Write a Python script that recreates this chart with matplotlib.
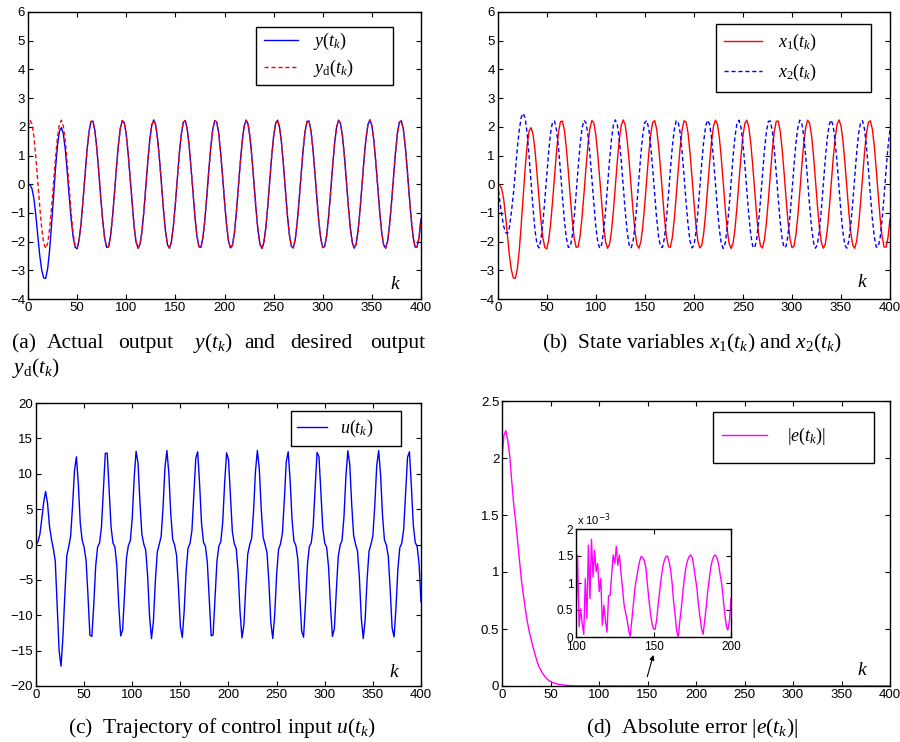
import numpy as np
import matplotlib.pyplot as plt
from matplotlib.patches import Rectangle
from matplotlib.ticker import FuncFormatter

plt.rcParams['font.family'] = 'Liberation Sans'
plt.rcParams['mathtext.fontset'] = 'custom'
plt.rcParams['mathtext.rm'] = 'Liberation Serif'
plt.rcParams['mathtext.it'] = 'Liberation Serif:italic'
plt.rcParams['mathtext.bf'] = 'Liberation Serif:bold'

# ---- data (k = 0, 2, ..., 400) ----
k = np.arange(0, 401, 2)

yd = [2.00, 2.23, 2.11, 1.66, 0.94, 0.08, -0.80, -1.55, -2.06, -2.24,
      -2.06, -1.57, -0.82, 0.05, 0.92, 1.64, 2.10, 2.23, 2.01, 1.47,
      0.70, -0.18, -1.04, -1.73, -2.14, -2.22, -1.95, -1.37, -0.57, 0.31,
      1.15, 1.81, 2.18, 2.20, 1.88, 1.26, 0.45, -0.44, -1.26, -1.88,
      -2.20, -2.18, -1.81, -1.15, -0.32, 0.57, 1.37, 1.95, 2.22, 2.14,
      1.73, 1.04, 0.19, -0.70, -1.47, -2.01, -2.23, -2.10, -1.64, -0.92,
      -0.06, 0.82, 1.56, 2.06, 2.24, 2.06, 1.55, 0.80, -0.07, -0.93,
      -1.65, -2.11, -2.23, -2.00, -1.45, -0.68, 0.21, 1.06, 1.74, 2.15,
      2.22, 1.94, 1.35, 0.55, -0.33, -1.17, -1.82, -2.18, -2.20, -1.87,
      -1.24, -0.42, 0.46, 1.28, 1.89, 2.21, 2.17, 1.80, 1.13, 0.30,
      -0.59, -1.38, -1.96, -2.22, -2.14, -1.72, -1.02, -0.17, 0.72, 1.48,
      2.02, 2.23, 2.10, 1.63, 0.90, 0.03, -0.84, -1.58, -2.07, -2.24,
      -2.05, -1.54, -0.78, 0.10, 0.96, 1.67, 2.12, 2.23, 1.99, 1.44,
      0.66, -0.23, -1.07, -1.75, -2.16, -2.22, -1.93, -1.34, -0.53, 0.35,
      1.19, 1.83, 2.19, 2.20, 1.86, 1.23, 0.40, -0.48, -1.30, -1.90,
      -2.21, -2.17, -1.78, -1.12, -0.28, 0.61, 1.40, 1.97, 2.23, 2.13,
      1.70, 1.00, 0.14, -0.74, -1.50, -2.03, -2.23, -2.09, -1.61, -0.88,
      -0.01, 0.86, 1.59, 2.08, 2.24, 2.04, 1.52, 0.76, -0.12, -0.97,
      -1.68, -2.12, -2.23, -1.98, -1.42, -0.64, 0.25, 1.09, 1.77, 2.16,
      2.21, 1.92, 1.32, 0.51, -0.38, -1.20, -1.84, -2.19, -2.19, -1.85,
      -1.21]

# actual output: own transient, then on top of yd from k = 52
y_start = [0.00, -0.02, -0.15, -0.50, -1.10, -1.80, -2.50, -3.00, -3.27, -3.28,
           -2.95, -2.30, -1.40, -0.40, 0.55, 1.35, 1.85, 1.97, 1.75, 1.20,
           0.40, -0.45, -1.25, -1.85, -2.20, -2.25]
y = y_start + yd[26:]
x1 = y

x2 = [0.00, -0.55, -1.05, -1.45, -1.68, -1.72, -1.50, -0.95, -0.35, 0.45,
      1.25, 1.90, 2.33, 2.47, 2.30, 1.78, 0.98, 0.08, -0.82, -1.60,
      -2.08, -2.22, -1.95, -1.37, -0.57, 0.31, 1.15, 1.81, 2.18, 2.20,
      1.88, 1.26, 0.45, -0.44, -1.26, -1.88, -2.20, -2.18, -1.81, -1.15,
      -0.32, 0.57, 1.37, 1.95, 2.22, 2.14, 1.73, 1.04, 0.19, -0.70,
      -1.47, -2.01, -2.23, -2.10, -1.64, -0.92, -0.06, 0.82, 1.56, 2.06,
      2.24, 2.06, 1.55, 0.80, -0.07, -0.93, -1.65, -2.11, -2.23, -2.00,
      -1.45, -0.68, 0.21, 1.06, 1.74, 2.15, 2.22, 1.94, 1.35, 0.55,
      -0.33, -1.17, -1.82, -2.18, -2.20, -1.87, -1.24, -0.42, 0.46, 1.28,
      1.89, 2.21, 2.17, 1.80, 1.13, 0.30, -0.59, -1.38, -1.96, -2.22,
      -2.14, -1.72, -1.02, -0.17, 0.72, 1.48, 2.02, 2.23, 2.10, 1.63,
      0.90, 0.03, -0.84, -1.58, -2.07, -2.24, -2.05, -1.54, -0.78, 0.10,
      0.96, 1.67, 2.12, 2.23, 1.99, 1.44, 0.66, -0.23, -1.07, -1.75,
      -2.16, -2.22, -1.93, -1.34, -0.53, 0.35, 1.19, 1.83, 2.19, 2.20,
      1.86, 1.23, 0.40, -0.48, -1.30, -1.90, -2.21, -2.17, -1.78, -1.12,
      -0.28, 0.61, 1.40, 1.97, 2.23, 2.13, 1.70, 1.00, 0.14, -0.74,
      -1.50, -2.03, -2.23, -2.09, -1.61, -0.88, -0.01, 0.86, 1.59, 2.08,
      2.24, 2.04, 1.52, 0.76, -0.12, -0.97, -1.68, -2.12, -2.23, -1.98,
      -1.42, -0.64, 0.25, 1.09, 1.77, 2.16, 2.21, 1.92, 1.32, 0.51,
      -0.38, -1.20, -1.84, -2.19, -2.19, -1.85, -1.21, -0.39, 0.50, 1.31,
      1.91]

u = [0.0, 0.4, 1.4, 3.6, 6.0, 7.5, 5.8, 2.6, 0.8, -0.6,
     -2.3, -8.5, -15.0, -17.2, -13.0, -7.0, -1.6, -0.3, 1.2, 5.5,
     10.5, 12.4, 8.5, 3.0, 0.6, -0.4, -2.2, -7.2, -12.8, -13.0,
     -8.58, -3.06, -0.35, 0.21, 2.44, 7.71, 12.9, 12.9, 7.73, 2.46,
     0.21, -0.35, -3.05, -8.58, -12.92, -12.08, -6.85, -1.90, -0.12, 0.54,
     3.73, 9.42, 13.17, 11.52, 5.99, 1.43, 0.05, -0.79, -4.49, -10.20,
     -13.3, -10.82, -5.16, -1.07, 0.00, 1.11, 5.28, 10.94, 13.28, 10.11,
     4.39, 0.75, -0.06, -1.50, -6.13, -11.59, -13.15, -9.27, -3.64, -0.51,
     0.13, 1.98, 6.99, 12.15, 13.1, 8.47, 2.97, 0.32, -0.23, -2.53,
     -7.84, -12.9, -12.8, -7.57, -2.36, -0.20, 0.38, 3.16, 8.72, 12.96,
     12.0, 6.85, 1.84, 0.11, -0.57, -3.86, -9.54, -13.2, -11.38, -5.86,
     -1.37, -0.04, 0.84, 4.64, 10.32, 13.3, 10.71, 5.03, 1.00, -0.01,
     -1.17, -5.42, -11.05, -13.28, -9.95, -4.24, -0.70, 0.07, 1.58, 6.27,
     11.69, 13.11, 9.16, 3.55, 0.47, -0.14, -2.06, -7.12, -12.23, -13.1,
     -8.29, -2.86, -0.30, 0.25, 2.63, 7.97, 13.0, 12.41, 7.44, 2.28,
     0.18, -0.40, -3.26, -8.83, -13.0, -11.9, -6.58, -1.74, -0.09, 0.61,
     3.97, 9.66, 13.25, 11.28, 5.69, 1.29, 0.03, -0.89, -4.73, -10.46,
     -13.3, -10.59, -4.90, -0.95, 0.02, 1.23, 5.54, 11.15, 13.27, 9.86,
     4.16, 0.66, -0.08, -1.65, -6.40, -11.8, -13.07, -9.0, -3.41, -0.44,
     0.16, 2.14, 7.27, 12.33, 13.1, 8.19, 2.76, 0.28, -0.27, -2.73,
     -8.13]

# absolute error |e|: k = 0..98 (step 2)
k_head = np.arange(0, 100, 2)
e_head = [2.00, 2.20, 2.24, 2.15, 2.02, 1.80, 1.60, 1.45, 1.28, 1.10,
          0.93, 0.80, 0.68, 0.57, 0.48, 0.41, 0.34, 0.28, 0.22, 0.17,
          0.14, 0.11, 0.085, 0.065, 0.05, 0.04, 0.03, 0.025, 0.02, 0.015,
          0.012, 0.01, 0.008, 0.006, 0.005, 0.004, 0.003, 0.003, 0.002, 0.002,
          0.002, 0.0015, 0.0015, 0.001, 0.001, 0.0012, 0.001, 0.0015, 0.0008, 0.001]
# zoomed part, k = 100..200 (step 1), in units of 1e-3
k_zoom = np.arange(100, 201)
e_zoom = [0.31, 1.52, 0.19, 0.52, 0.25, 0.05, 1.08, 0.34, 1.70, 0.71,
          1.81, 1.11, 1.60, 1.21, 1.36, 0.84, 1.08, 0.22, 0.59, 0.30,
          0.09, 0.76, 0.77, 1.15, 1.52, 1.36, 1.68, 1.33, 1.52, 1.20,
          0.90, 0.60, 0.45, 0.31, 0.12, 0.01, 0.31, 0.60, 0.90, 1.08,
          1.25, 1.40, 1.49, 1.47, 1.42, 1.30, 1.00, 0.70, 0.45, 0.25,
          0.15, 0.14, 0.31, 0.60, 0.85, 1.10, 1.30, 1.42, 1.49, 1.50,
          1.40, 1.25, 1.00, 0.65, 0.40, 0.10, 0.00, 0.30, 0.55, 0.85,
          1.10, 1.30, 1.42, 1.49, 1.52, 1.47, 1.30, 1.10, 0.90, 0.60,
          0.37, 0.15, 0.05, 0.30, 0.55, 0.85, 1.08, 1.30, 1.43, 1.50,
          1.52, 1.46, 1.35, 1.15, 0.99, 0.70, 0.43, 0.20, 0.13, 0.30,
          0.71]
# rest, k = 204..400 (step 4), units of 1e-3
k_tail = np.arange(204, 401, 4)
e_tail = [1.40, 1.45, 0.50, 0.60, 1.45, 1.35, 0.30, 0.85, 1.50, 1.20,
          0.15, 1.00, 1.50, 1.05, 0.10, 1.15, 1.50, 0.90, 0.10, 1.25,
          1.50, 0.70, 0.05, 1.35, 1.50, 0.55, 0.05, 1.40, 1.45, 0.40,
          0.15, 1.45, 1.40, 0.30, 0.30, 1.50, 1.30, 0.15, 0.40, 1.50,
          1.20, 0.05, 0.55, 1.50, 1.10, 0.10, 0.70, 1.50, 0.95, 0.10]

k_e = np.concatenate([k_head, k_zoom, k_tail])
e_abs = np.concatenate([e_head, np.array(e_zoom) * 1e-3, np.array(e_tail) * 1e-3])

BLUE, RED, MAG = '#0000ff', '#ff0000', '#ff00ff'
W, H = 900, 742


def fmt(v, pos):
    return ('%g' % v).replace('-', '\u2212')


def style(ax, ylim, yticks, xticks=range(0, 401, 50), size=9.5):
    ax.set_xlim(xticks[0], xticks[-1])
    ax.set_ylim(*ylim)
    ax.set_xticks(list(xticks))
    ax.set_yticks(yticks)
    ax.xaxis.set_major_formatter(FuncFormatter(fmt))
    ax.yaxis.set_major_formatter(FuncFormatter(fmt))
    ax.tick_params(direction='in', top=True, right=True, length=3.5,
                   width=0.8, labelsize=size, pad=2)
    for s in ax.spines.values():
        s.set_linewidth(1.0)


def frame_legend(ax, handle_x, top, hl, tp, ls, box):
    leg = ax.legend(loc='upper left', bbox_to_anchor=(handle_x, top),
                    frameon=False, fontsize=13, handlelength=hl,
                    handletextpad=tp, labelspacing=ls, borderpad=0,
                    borderaxespad=0)
    ax.add_patch(Rectangle(box[:2], box[2], box[3], transform=ax.transAxes,
                           facecolor='white', edgecolor='black', lw=1.0,
                           zorder=4))
    leg.set_zorder(5)


def ax_rect(left, top, right, bottom):
    return [left / W, 1 - bottom / H, (right - left) / W, (bottom - top) / H]


def kmark(ax, x, yy):
    ax.text(x, yy, '$k$', transform=ax.transAxes, fontsize=14,
            ha='center', va='center')


fig = plt.figure(figsize=(9, 7.42), dpi=100)

# (a)
ax = fig.add_axes(ax_rect(28, 12, 421, 299))
ax.plot(k, y, color=BLUE, lw=1.0, label=r'$y(t_k)$')
ax.plot(k, yd, color=RED, lw=1.0, ls=(0, (3, 2)), label=r'$y_{\mathrm{d}}(t_k)$')
style(ax, (-4, 6), range(-4, 7))
frame_legend(ax, 0.6005, 0.934, 1.89, 0.83, 0.33, (0.580, 0.746, 0.349, 0.202))
kmark(ax, 0.934, 0.049)

# (b)
ax = fig.add_axes(ax_rect(497.7, 12, 890, 299))
ax.plot(k, x1, color=RED, lw=1.0, label=r'$x_1(t_k)$')
ax.plot(k, x2, color=BLUE, lw=1.0, ls=(0, (3, 2)), label=r'$x_2(t_k)$')
style(ax, (-4, 6), range(-4, 7))
frame_legend(ax, 0.577, 0.931, 2.1, 0.9, 0.52, (0.5565, 0.721, 0.395, 0.237))
kmark(ax, 0.930, 0.056)

# (c)
ax = fig.add_axes(ax_rect(36, 403, 421, 686))
ax.plot(k, u, color=BLUE, lw=1.0, label=r'$u(t_k)$')
style(ax, (-20, 20), range(-20, 21, 5))
frame_legend(ax, 0.678, 0.946, 1.65, 0.72, 0.3, (0.662, 0.848, 0.286, 0.124))
kmark(ax, 0.932, 0.046)

# (d)
ax = fig.add_axes(ax_rect(502, 401, 890, 686))
ax.plot(k_e, e_abs, color=MAG, lw=1.0, label=r'$|e(t_k)|$')
style(ax, (0, 2.5), np.arange(0, 2.51, 0.5))
frame_legend(ax, 0.566, 0.911, 2.5, 1.1, 0.3, (0.544, 0.782, 0.415, 0.179))
kmark(ax, 0.930, 0.056)
ax.annotate('', xy=(156, 0.272), xytext=(149.8, 0.082),
            arrowprops=dict(arrowstyle='-|>', color='black', lw=0.8,
                            mutation_scale=7, shrinkA=0, shrinkB=0))

axi = fig.add_axes(ax_rect(576, 529, 731, 637))
axi.plot(k_zoom, e_zoom, color=MAG, lw=1.0)
style(axi, (0, 2), np.arange(0, 2.01, 0.5), xticks=[100, 150, 200], size=8.5)
axi.tick_params(axis='x', pad=3)
axi.text(0.005, 1.01, r'x 10$^{-3}$', transform=axi.transAxes, fontsize=8,
         ha='left', va='bottom', math_fontfamily='dejavusans')

# captions
cap = dict(fontsize=15.5, family='Liberation Serif', va='baseline')
words_a = ['(a)', 'Actual', 'output', r'$y(t_k)$', 'and', 'desired', 'output']
xs_a = [11.7, 46.7, 118.3, 192.7, 244.3, 290, 370]
for w_, x_ in zip(words_a, xs_a):
    fig.text(x_ / W, 1 - 348 / H, w_, ha='left', **cap)
fig.text(11.7 / W, 1 - 372.5 / H, r'$y_{\mathrm{d}}(t_k)$', ha='left', **cap)
fig.text(691.7 / W, 1 - 348 / H,
         r'(b)  State variables $x_1(t_k)$ and $x_2(t_k)$', ha='center', **cap)
fig.text(221.7 / W, 1 - 732.7 / H,
         r'(c)  Trajectory of control input $u(t_k)$', ha='center', **cap)
fig.text(691.7 / W, 1 - 732.7 / H,
         r'(d)  Absolute error $|e(t_k)|$', ha='center', **cap)

fig.savefig('out.png', dpi=100)
